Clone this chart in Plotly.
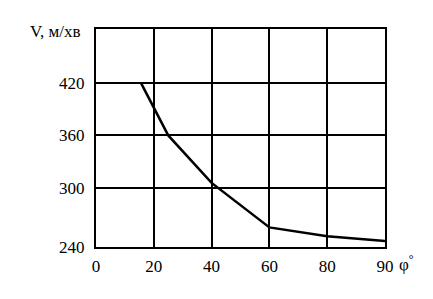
import numpy as np
import plotly.graph_objects as go

# Data
phi = [15.5, 25, 40, 60, 80, 90]
V = [420, 360, 306, 260, 251, 246]

# Axis tick labels
x_tick_labels = [0, 20, 40, 60, 80, 90]
y_tick_labels = [240, 300, 360, 420]

# Piecewise scales as drawn in the reference (equal spacing for x ticks,
# 240 sitting at the bottom border)
x_tick_pos = list(range(len(x_tick_labels)))
y_scale_vals = [240, 300, 480]
y_scale_pos = [233.1, 300, 480]

x_pos = np.interp(phi, x_tick_labels, x_tick_pos)
y_pos = np.interp(V, y_scale_vals, y_scale_pos)
y_tick_pos = np.interp(y_tick_labels, y_scale_vals, y_scale_pos)

FONT = "Liberation Serif"

fig = go.Figure()
fig.add_trace(go.Scatter(
    x=x_pos, y=y_pos, mode="lines",
    line=dict(color="black", width=2.5),
    showlegend=False, hoverinfo="skip",
))

fig.update_layout(
    width=433, height=299,
    margin=dict(l=96, r=48, t=29, b=52, pad=0),
    paper_bgcolor="white", plot_bgcolor="white",
    font=dict(family=FONT, size=17, color="black"),
    xaxis=dict(
        range=[0, 5], tickvals=x_tick_pos, ticktext=[str(v) for v in x_tick_labels],
        showgrid=True, gridcolor="black", gridwidth=2,
        showline=True, linecolor="black", linewidth=2, mirror=True,
        zeroline=False, ticks="", ticklabelstandoff=3,
        tickfont=dict(family=FONT, size=17, color="black"),
    ),
    yaxis=dict(
        range=[233.1, 481], tickvals=list(y_tick_pos), ticktext=[str(v) for v in y_tick_labels],
        showgrid=True, gridcolor="black", gridwidth=2,
        showline=True, linecolor="black", linewidth=2, mirror=True,
        zeroline=False, ticks="", ticklabelstandoff=6,
        tickfont=dict(family=FONT, size=17, color="black"),
    ),
    annotations=[
        dict(text="V, м/хв", xref="paper", yref="paper",
             x=-0.045, y=0.99, xanchor="right", yanchor="middle",
             showarrow=False, font=dict(family=FONT, size=17, color="black")),
        dict(text="φ<sup>°</sup>", xref="paper", yref="paper",
             x=1.04, y=-0.075, xanchor="left", yanchor="middle",
             showarrow=False, font=dict(family=FONT, size=17, color="black")),
    ],
)

fig.write_html("out.html")
